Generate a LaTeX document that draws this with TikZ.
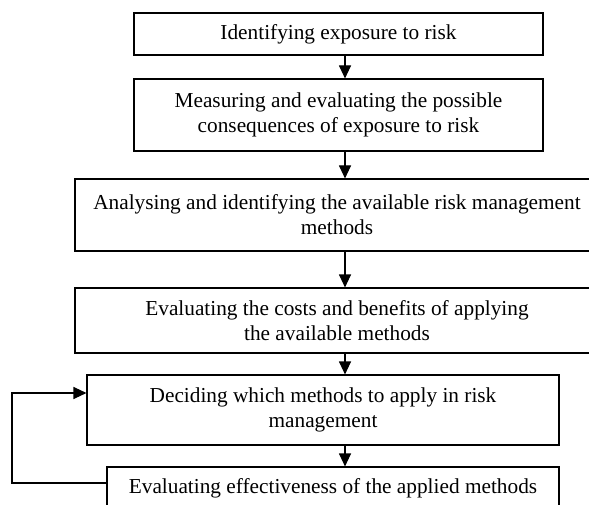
\documentclass[tikz,border=0pt]{standalone}
\usepackage{fontspec}
\setmainfont{Liberation Serif}
\usetikzlibrary{arrows.meta}
\begin{document}
\begin{tikzpicture}[x=1pt,y=-1pt,
  box/.style={draw,line width=1.1pt,align=center,inner sep=0pt,
    font=\fontsize{21.3}{25}\selectfont},
  arr/.style={line width=1.1pt,-{Triangle[length=13pt,width=12pt]}}]
\useasboundingbox (0,0) rectangle (589,505);
\clip (0,0) rectangle (589,505);
\node[box,minimum width=409pt,minimum height=42pt] (b1) at (338.5,34) {Identifying exposure to risk};
\node[box,minimum width=409pt,minimum height=72pt] (b2) at (338.5,115) {Measuring and evaluating the possible\\consequences of exposure to risk};
\node[box,minimum width=524pt,minimum height=72pt] (b3) at (337,215) {Analysing and identifying the available risk management\\methods};
\node[box,minimum width=524pt,minimum height=65pt] (b4) at (337,320.5) {Evaluating the costs and benefits of applying\\the available methods};
\node[box,minimum width=472pt,minimum height=70pt] (b5) at (323,410) {Deciding which methods to apply in risk\\management};
\node[box,minimum width=452pt,minimum height=43pt] (b6) at (333,488.5) {Evaluating effectiveness of the applied methods};
\coordinate (ax) at (345,0);
\coordinate (lp) at (12,0);
\draw[arr] (b1.south -| ax) -- (b2.north -| ax);
\draw[arr] (b2.south -| ax) -- (b3.north -| ax);
\draw[arr] (b3.south -| ax) -- (b4.north -| ax);
\draw[arr] (b4.south -| ax) -- (b5.north -| ax);
\draw[arr] (b5.south -| ax) -- (b6.north -| ax);
\coordinate (f1) at (107,483);
\coordinate (f2) at (87,393);
\draw[arr] (b6.west |- f1) -- (lp |- f1) -- (lp |- f2) -- (b5.west |- f2);
\end{tikzpicture}
\end{document}
